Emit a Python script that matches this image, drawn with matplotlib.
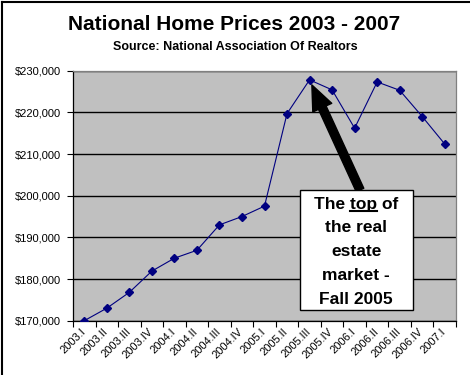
import matplotlib
matplotlib.use("Agg")
import matplotlib.pyplot as plt
import matplotlib.transforms as mtransforms
from matplotlib.patches import Rectangle
from matplotlib.lines import Line2D
from matplotlib.ticker import FuncFormatter

quarters = ["2003.I", "2003.II", "2003.III", "2003.IV",
            "2004.I", "2004.II", "2004.III", "2004.IV",
            "2005.I", "2005.II", "2005.III", "2005.IV",
            "2006.I", "2006.II", "2006.III", "2006.IV", "2007.I"]
prices = [170000, 173000, 176800, 181900,
          185000, 186900, 193000, 195000,
          197500, 219700, 227800, 225400,
          216200, 227300, 225300, 219000, 212400]
y_ticks = [170000, 180000, 190000, 200000, 210000, 220000, 230000]
peak_index = 10
title = "National Home Prices 2003 - 2007"
subtitle = "Source: National Association Of Realtors"
note_lines = ["The top of", "the real", "estate", "market -", "Fall 2005"]

W, H = 470, 375
plt.rcParams['font.family'] = ['Liberation Sans', 'DejaVu Sans']
fig = plt.figure(figsize=(W / 100, H / 100), dpi=100)

def fx(px):
    return px / W

def fy(py):
    return 1 - py / H

left, right, top, bottom = 73, 456, 70.7, 320.7
ax = fig.add_axes([fx(left), fy(bottom), fx(right - left), (bottom - top) / H])
ax.set_facecolor("#C0C0C0")

x = list(range(len(quarters)))
ax.plot(x, prices, color="#000080", lw=0.8, marker="D", ms=3.8,
        mec="#000080", mfc="#000080", zorder=3)

ax.set_xlim(-0.5, len(quarters) - 0.5)
ax.set_ylim(y_ticks[0], y_ticks[-1])
ax.set_yticks(y_ticks)
ax.yaxis.set_major_formatter(FuncFormatter(lambda v, p: "${:,.0f}".format(v)))
ax.grid(axis="y", color="black", lw=1.0)
ax.set_axisbelow(True)

ax.set_xticks([i - 0.5 for i in range(len(quarters) + 1)])
ax.set_xticklabels([])
ax.set_xticks(x, minor=True)
ax.set_xticklabels(quarters, minor=True, rotation=45, ha="right", va="top",
                   rotation_mode="anchor", fontsize=8)
ax.tick_params(axis="x", which="minor", length=0, pad=4)
ax.tick_params(axis="x", which="major", length=4, width=0.8, direction="out")
ax.tick_params(axis="y", length=4, width=0.8, direction="out", pad=5, labelsize=8)
shift = mtransforms.ScaledTranslation(-4 / 100, 0, fig.dpi_scale_trans)
for lab in ax.get_xticklabels(minor=True):
    lab.set_transform(lab.get_transform() + shift)

for s in ["left", "bottom"]:
    ax.spines[s].set_color("black")
    ax.spines[s].set_linewidth(0.9)
for s in ["top", "right"]:
    ax.spines[s].set_color("#808080")
    ax.spines[s].set_linewidth(0.9)

# title
fig.text(fx(234), fy(30), title, ha="center", va="baseline",
         fontsize=15, fontweight="bold")
fig.text(fx(235.5), fy(50), subtitle, ha="center", va="baseline",
         fontsize=9, fontweight="bold")

# arrow
ax.annotate("", xy=(peak_index, prices[peak_index]), xycoords="data",
            xytext=(360, H - 190), textcoords="figure pixels",
            arrowprops=dict(arrowstyle="simple,head_length=0.9,head_width=0.75,tail_width=0.3",
                            mutation_scale=20, color="black", shrinkA=0, shrinkB=4),
            zorder=5)

# note box
bx0, bx1, by0, by1 = 299.5, 413, 190, 310
fig.patches.append(Rectangle((fx(bx0), fy(by1)), fx(bx1 - bx0), (by1 - by0) / H,
                             transform=fig.transFigure, facecolor="white",
                             edgecolor="black", lw=1.0, zorder=6))
cx = (bx0 + bx1) / 2
baselines = [208.5, 232.5, 256.5, 280.5, 304.5]
fs = 12.5
texts = []
for line, b in zip(note_lines, baselines):
    t = fig.text(fx(cx), fy(b), line, ha="center", va="baseline",
                 fontsize=fs, fontweight="bold", zorder=7)
    texts.append(t)

# underline "top"
fig.canvas.draw()
r = fig.canvas.get_renderer()
prop = texts[0].get_fontproperties()
w_line, _, _ = r.get_text_width_height_descent(note_lines[0], prop, ismath=False)
w_pre, _, _ = r.get_text_width_height_descent("The ", prop, ismath=False)
w_top, _, _ = r.get_text_width_height_descent("top", prop, ismath=False)
sx = cx - w_line / 2 + w_pre
uy = baselines[0] + 2.5
fig.lines.append(Line2D([fx(sx), fx(sx + w_top)], [fy(uy), fy(uy)],
                        transform=fig.transFigure, color="black", lw=1.5, zorder=8))

# figure frame (top and left)
fig.lines.append(Line2D([fx(1.5), fx(1.5)], [0, fy(1.5)], transform=fig.transFigure,
                        color="black", lw=1.5))
fig.lines.append(Line2D([fx(1.5), 1], [fy(1.5), fy(1.5)], transform=fig.transFigure,
                        color="black", lw=1.5))

fig.savefig("out.png", dpi=100)
